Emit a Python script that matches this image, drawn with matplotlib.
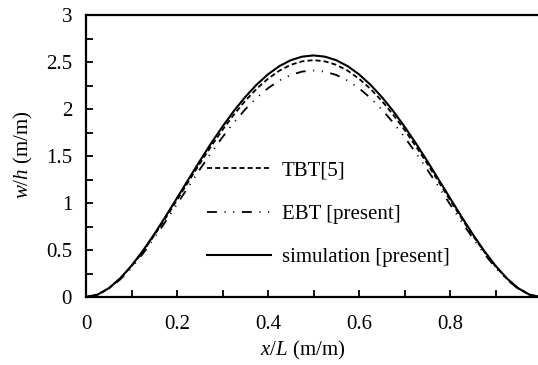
import numpy as np
import matplotlib
matplotlib.use("Agg")
import matplotlib.pyplot as plt
from matplotlib.ticker import MultipleLocator

plt.rcParams["font.family"] = "Liberation Serif"
plt.rcParams["mathtext.fontset"] = "custom"
plt.rcParams["mathtext.rm"] = "Liberation Serif"
plt.rcParams["mathtext.it"] = "Liberation Serif:italic"

FS = 15

# deflection along the beam, x/L from 0 to 1 in steps of 0.025
x = np.arange(41) * 0.025

w_sim = [0, 0.024, 0.093, 0.198, 0.333, 0.492, 0.668, 0.857, 1.053, 1.250,
         1.446, 1.635, 1.813, 1.979, 2.128, 2.259, 2.369, 2.456, 2.519, 2.557,
         2.570,
         2.557, 2.519, 2.456, 2.369, 2.259, 2.128, 1.979, 1.813, 1.635, 1.446,
         1.250, 1.053, 0.857, 0.668, 0.492, 0.333, 0.198, 0.093, 0.024, 0]
w_tbt = [0, 0.024, 0.091, 0.194, 0.327, 0.482, 0.655, 0.840, 1.032, 1.226,
         1.418, 1.603, 1.778, 1.940, 2.087, 2.215, 2.322, 2.408, 2.470, 2.507,
         2.520,
         2.507, 2.470, 2.408, 2.322, 2.215, 2.087, 1.940, 1.778, 1.603, 1.418,
         1.226, 1.032, 0.840, 0.655, 0.482, 0.327, 0.194, 0.091, 0.024, 0]
w_ebt = [0, 0.023, 0.087, 0.186, 0.312, 0.461, 0.627, 0.804, 0.987, 1.172,
         1.356, 1.533, 1.701, 1.856, 1.996, 2.118, 2.221, 2.303, 2.362, 2.398,
         2.410,
         2.398, 2.362, 2.303, 2.221, 2.118, 1.996, 1.856, 1.701, 1.533, 1.356,
         1.172, 0.987, 0.804, 0.627, 0.461, 0.312, 0.186, 0.087, 0.023, 0]

fig = plt.figure(figsize=(5.38, 3.65), dpi=100)
ax = fig.add_axes([86 / 538, 1 - 297 / 365, 455 / 538, 282 / 365])

ax.plot(x, w_tbt, color="black", lw=1.3, dashes=(2.8, 1.7), label="TBT[5]")
ax.plot(x, w_ebt, color="black", lw=1.3, dashes=(5.5, 4.2, 0.6, 4.2, 0.6, 4.2),
        label="EBT [present]")
ax.plot(x, w_sim, color="black", lw=1.5, label="simulation [present]")

ax.set_xlim(0, 1)
ax.set_ylim(0, 3)
ax.xaxis.set_minor_locator(MultipleLocator(0.1))
ax.yaxis.set_minor_locator(MultipleLocator(0.25))
ax.set_xticks([0, 0.2, 0.4, 0.6, 0.8])
ax.set_xticklabels(["0", "0.2", "0.4", "0.6", "0.8"])
ax.set_yticks([0, 0.5, 1, 1.5, 2, 2.5, 3])
ax.set_yticklabels(["0", "0.5", "1", "1.5", "2", "2.5", "3"])

ax.tick_params(which="both", direction="in", width=1.3, labelsize=FS,
               top=False, right=False, length=5)
ax.tick_params(axis="x", which="major", pad=13)
ax.tick_params(axis="y", which="major", pad=10)

ax.spines["right"].set_visible(False)
for s in ["left", "bottom", "top"]:
    ax.spines[s].set_linewidth(1.6)

ax.set_xlabel("$x$/$L$ (m/m)", fontsize=FS, va="center")
ax.xaxis.set_label_coords(0.477, -0.188)
ax.set_ylabel("$w$/$h$ (m/m)", fontsize=FS, va="center")
ax.yaxis.set_label_coords(-0.137, 0.504)

ax.legend(loc="upper left", bbox_to_anchor=(0.266, 0.483), frameon=False,
          fontsize=FS, handlelength=3.05, handletextpad=0.55,
          labelspacing=1.15, borderpad=0, borderaxespad=0)

fig.savefig("out.png", dpi=100)
